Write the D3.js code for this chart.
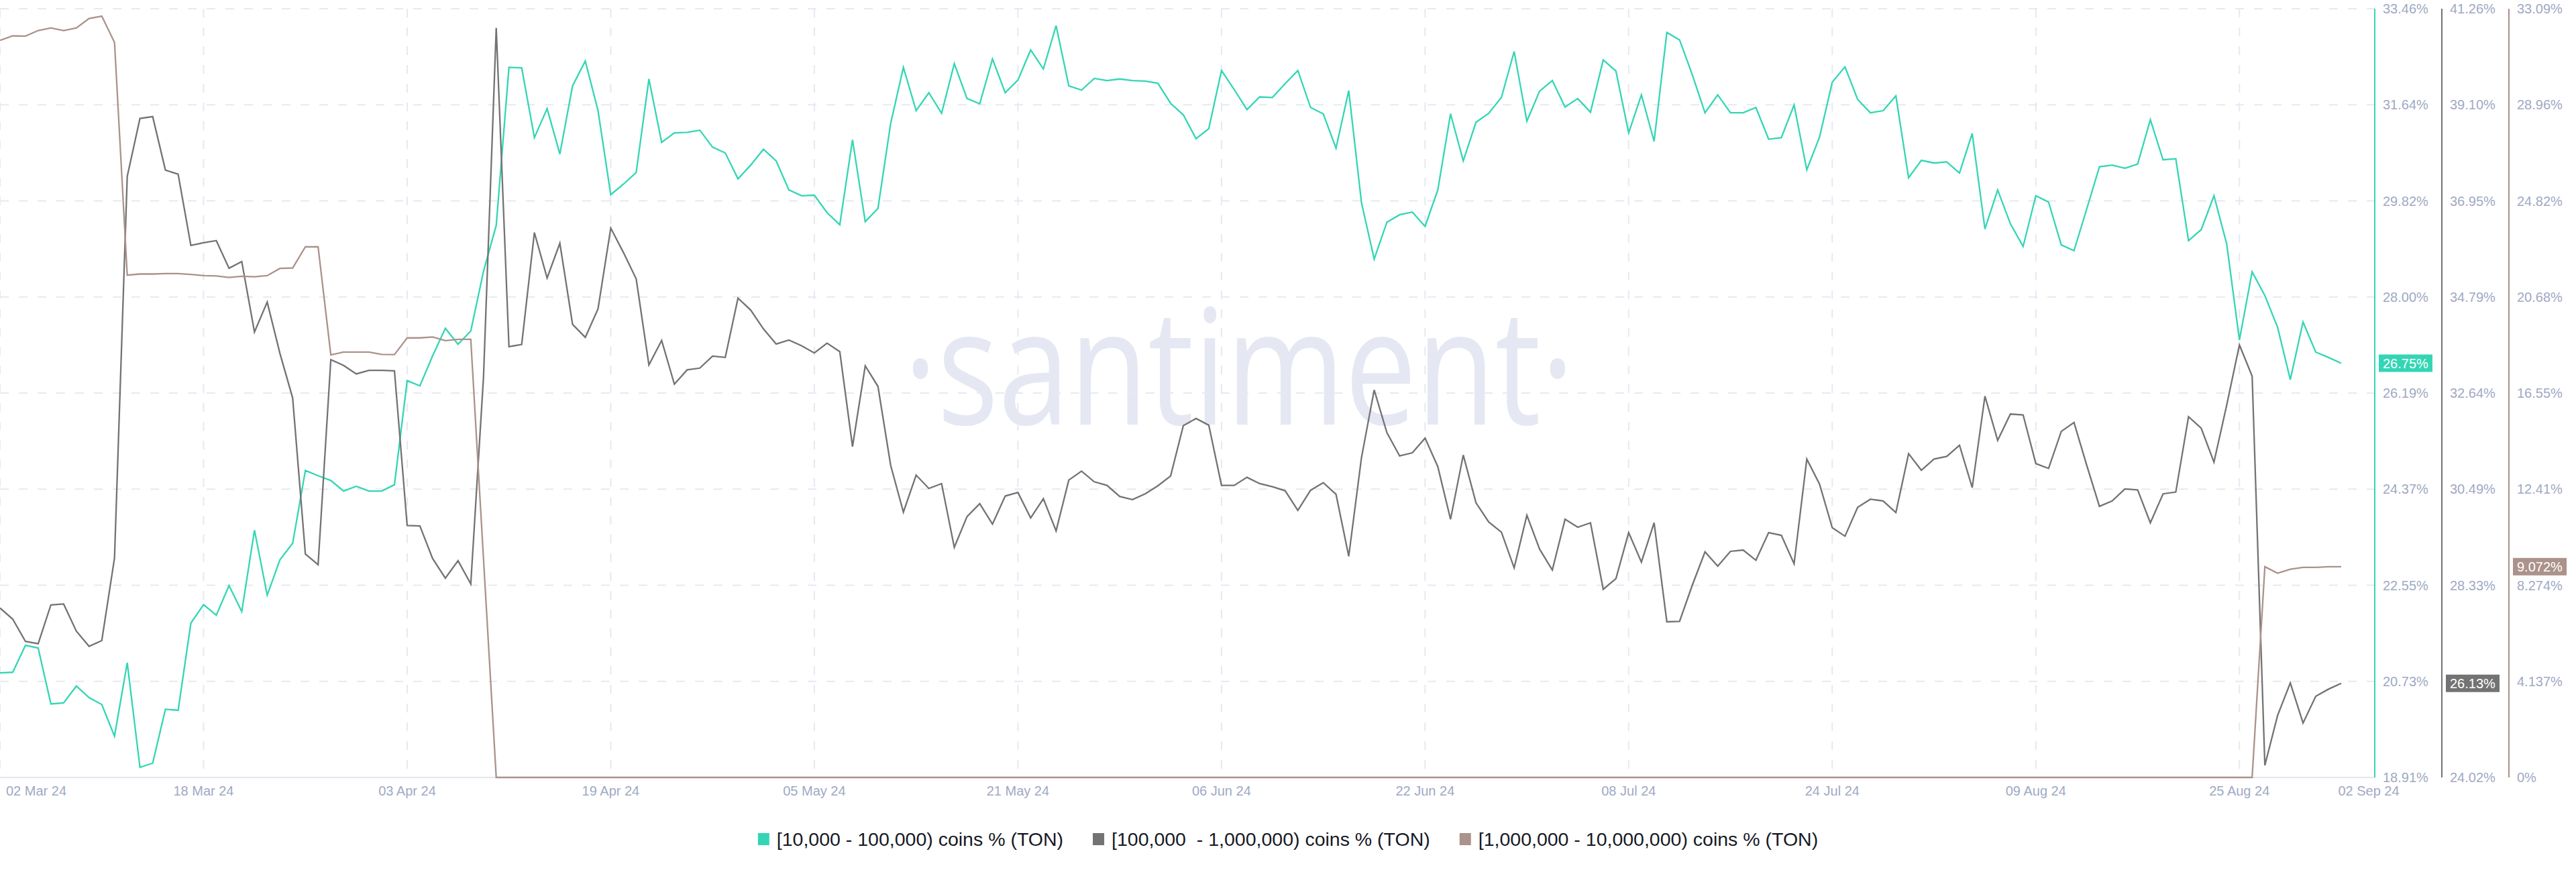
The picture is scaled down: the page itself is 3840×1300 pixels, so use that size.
<!DOCTYPE html>
<html><head><meta charset="utf-8">
<script src="https://cdn.jsdelivr.net/npm/d3@7"></script>
<style>
html,body{margin:0;padding:0;background:#fff;}
svg{display:block;font-family:"Liberation Sans",Arial,Helvetica,sans-serif;}
</style></head><body>
<svg id="chart" width="3840" height="1300"></svg>
<script>
// ---------------- DATA ----------------
const firstDay = "2024-03-02";
const lastDay = "2024-09-02";
const seriesNames = ["[10,000 - 100,000) coins % (TON)", "[100,000  - 1,000,000) coins % (TON)", "[1,000,000 - 10,000,000) coins % (TON)"];
const seriesColors = ["#33d6b4", "#737373", "#ab928a"];

// [10,000 - 100,000) coins %, daily from 02 Mar 24
const tealValues = [
 20.89,20.90,21.41,21.36,20.30,20.32,20.64,20.42,20.29,19.69,
 21.08,19.10,19.18,20.20,20.18,21.83,22.18,21.98,22.54,22.05,
 23.59,22.36,23.03,23.34,24.72,24.62,24.53,24.33,24.42,24.33,
 24.33,24.45,26.42,26.32,26.89,27.41,27.11,27.36,28.49,29.36,
 32.35,32.34,31.02,31.57,30.71,32.00,32.47,31.53,29.94,30.14,
 30.36,32.13,30.93,31.11,31.12,31.16,30.84,30.73,30.24,30.50,
 30.80,30.58,30.03,29.92,29.93,29.60,29.37,30.98,29.43,29.68,
 31.29,32.35,31.53,31.87,31.48,32.42,31.76,31.66,32.51,31.87,
 32.11,32.68,32.32,33.14,32.00,31.92,32.14,32.10,32.13,32.10,
 32.09,32.05,31.67,31.45,31.00,31.19,32.29,31.93,31.55,31.79,
 31.78,32.04,32.29,31.59,31.47,30.82,31.91,29.79,28.72,29.42,
 29.56,29.61,29.34,30.03,31.47,30.58,31.31,31.48,31.78,32.65,
 31.33,31.90,32.10,31.60,31.76,31.50,32.49,32.28,31.11,31.83,
 30.95,33.01,32.87,32.21,31.49,31.83,31.49,31.49,31.59,30.99,
 31.02,31.64,30.41,31.03,32.07,32.36,31.74,31.49,31.53,31.81,
 30.26,30.59,30.54,30.56,30.35,31.10,29.29,30.03,29.39,28.96,
 29.92,29.80,28.99,28.88,29.67,30.47,30.50,30.44,30.52,31.36,
 30.60,30.62,29.07,29.28,29.92,29.01,27.19,28.48,28.03,27.43,
 26.44,27.53,26.96,26.86,26.75
];
// [100,000 - 1,000,000) coins %
const grayValues = [
 27.82,27.57,27.07,27.02,27.89,27.91,27.30,26.96,27.09,28.94,
 37.50,38.80,38.84,37.64,37.55,35.95,36.01,36.06,35.44,35.59,
 34.01,34.68,33.53,32.53,29.03,28.79,33.39,33.26,33.07,33.15,
 33.15,33.14,29.67,29.66,28.93,28.49,28.88,28.36,33.00,40.83,
 33.68,33.73,36.24,35.22,36.00,34.18,33.89,34.53,36.34,35.79,
 35.20,33.27,33.82,32.84,33.16,33.20,33.47,33.44,34.77,34.50,
 34.08,33.74,33.83,33.70,33.54,33.76,33.57,31.44,33.25,32.79,
 31.02,29.97,30.80,30.50,30.61,29.18,29.87,30.16,29.70,30.33,
 30.41,29.84,30.27,29.55,30.69,30.89,30.65,30.57,30.32,30.25,
 30.38,30.56,30.78,31.91,32.07,31.92,30.57,30.57,30.75,30.61,
 30.54,30.45,30.01,30.46,30.63,30.37,28.98,31.19,32.71,31.75,
 31.23,31.30,31.63,30.99,29.81,31.25,30.18,29.75,29.52,28.72,
 29.90,29.14,28.67,29.81,29.63,29.73,28.24,28.48,29.51,28.85,
 29.73,27.51,27.52,28.33,29.08,28.76,29.09,29.12,28.89,29.51,
 29.45,28.81,31.16,30.60,29.62,29.43,30.08,30.26,30.22,29.96,
 31.28,30.91,31.16,31.22,31.47,30.52,32.57,31.58,32.17,32.15,
 31.06,30.95,31.78,31.98,31.02,30.10,30.22,30.49,30.47,29.73,
 30.38,30.42,32.11,31.85,31.09,32.37,33.72,33.02,24.29,25.41,
 26.14,25.24,25.84,26.00,26.13
];
// [1,000,000 - 10,000,000) coins %
const brownValues = [
 31.73,31.92,31.91,32.15,32.26,32.15,32.26,32.67,32.77,31.64,
 21.62,21.67,21.67,21.69,21.69,21.65,21.60,21.59,21.52,21.57,
 21.55,21.60,21.91,21.93,22.84,22.84,18.19,18.31,18.31,18.31,
 18.21,18.20,18.92,18.92,18.96,18.80,18.86,18.86,9.40,0,
 0,0,0,0,0,0,0,0,0,0,
 0,0,0,0,0,0,0,0,0,0,
 0,0,0,0,0,0,0,0,0,0,
 0,0,0,0,0,0,0,0,0,0,
 0,0,0,0,0,0,0,0,0,0,
 0,0,0,0,0,0,0,0,0,0,
 0,0,0,0,0,0,0,0,0,0,
 0,0,0,0,0,0,0,0,0,0,
 0,0,0,0,0,0,0,0,0,0,
 0,0,0,0,0,0,0,0,0,0,
 0,0,0,0,0,0,0,0,0,0,
 0,0,0,0,0,0,0,0,0,0,
 0,0,0,0,0,0,0,0,0,0,
 0,0,0,0,0,0,0,0,9.07,8.79,
 8.96,9.04,9.04,9.07,9.072
];

const xTickLabels = ["02 Mar 24","18 Mar 24","03 Apr 24","19 Apr 24","05 May 24","21 May 24","06 Jun 24","22 Jun 24","08 Jul 24","24 Jul 24","09 Aug 24","25 Aug 24","02 Sep 24"];
const tealDomain = [18.91, 33.46];
const grayDomain = [24.02, 41.26];
const brownDomain = [0, 33.09];
const tealTickLabels = ["18.91%","20.73%","22.55%","24.37%","26.19%","28.00%","29.82%","31.64%","33.46%"];
const grayTickLabels = ["24.02%","26.18%","28.33%","30.49%","32.64%","34.79%","36.95%","39.10%","41.26%"];
const brownTickLabels = ["0%","4.137%","8.274%","12.41%","16.55%","20.68%","24.82%","28.96%","33.09%"];
const lastValueLabels = ["26.75%","26.13%","9.072%"];
const watermark = "\u00B7santiment\u00B7";

// ---------------- LAYOUT ----------------
const W = 3840, H = 1300;
const plot = {left: 0, top: 13, right: 3540, bottom: 1159, dataRight: 3490};
const axisX = [3540, 3640, 3740];
const tickColor = "#a0a9c4";
const gridColor = "#e6e9f3";

const svg = d3.select("#chart");
const parseDay = d3.utcParse("%Y-%m-%d");
const dates = d3.utcDay.range(parseDay(firstDay), d3.utcDay.offset(parseDay(lastDay), 1));

const x = d3.scaleUtc().domain([dates[0], dates[dates.length - 1]]).range([plot.left, plot.dataRight]);
const yScales = [
  d3.scaleLinear().domain(tealDomain).range([plot.bottom, plot.top]),
  d3.scaleLinear().domain(grayDomain).range([plot.bottom, plot.top]),
  d3.scaleLinear().domain(brownDomain).range([plot.bottom, plot.top])
];
const tickLabelSets = [tealTickLabels, grayTickLabels, brownTickLabels];
const seriesData = [tealValues, grayValues, brownValues];

// watermark
svg.append("text")
  .attr("x", 1347).attr("y", 633)
  .attr("font-family", "'Open Sans', sans-serif")
  .attr("font-size", 240)
  .attr("fill", "#e5e8f2")
  .attr("textLength", 1000)
  .attr("lengthAdjust", "spacingAndGlyphs")
  .text(watermark);

// grid: horizontal (dashed) at tick levels
const tickFrac = d3.range(9).map(k => k / 8);
const gridG = svg.append("g");
tickFrac.forEach((f, k) => {
  const v = tealDomain[0] + f * (tealDomain[1] - tealDomain[0]);
  const yy = yScales[0](v);
  if (k === 0) return;
  gridG.append("line")
    .attr("x1", plot.left).attr("x2", plot.right)
    .attr("y1", yy).attr("y2", yy)
    .attr("stroke", gridColor).attr("stroke-width", 2)
    .attr("stroke-dasharray", "13,15");
});
// vertical grid at date ticks
const parseTick = d3.utcParse("%d %b %y");
const tickDates = xTickLabels.map(parseTick);
tickDates.slice(0, -1).forEach(d => {
  gridG.append("line")
    .attr("x1", x(d)).attr("x2", x(d))
    .attr("y1", plot.top).attr("y2", plot.bottom)
    .attr("stroke", gridColor).attr("stroke-width", 2)
    .attr("stroke-dasharray", "13,15");
});
// baseline
gridG.append("line")
  .attr("x1", plot.left).attr("x2", plot.right)
  .attr("y1", plot.bottom).attr("y2", plot.bottom)
  .attr("stroke", "#e2e5ef").attr("stroke-width", 2);

// x tick labels
const xLab = svg.append("g").attr("font-size", 20).attr("fill", tickColor);
tickDates.forEach((d, k) => {
  let xx = x(d), anchor = "middle";
  if (k === 0) { xx = 9; anchor = "start"; }
  if (k === tickDates.length - 1) { xx = x(d) + 41; }
  xLab.append("text")
    .attr("x", xx).attr("y", 1186)
    .attr("text-anchor", anchor)
    .text(xTickLabels[k]);
});

// lines
const lineG = svg.append("g");
seriesData.forEach((vals, s) => {
  const line = d3.line()
    .x((v, i) => x(dates[i]))
    .y(v => yScales[s](v));
  lineG.append("path")
    .datum(vals)
    .attr("d", line)
    .attr("fill", "none")
    .attr("stroke", seriesColors[s])
    .attr("stroke-width", 2.3)
    .attr("stroke-linejoin", "miter");
});

// right axes
seriesData.forEach((vals, s) => {
  const ax = axisX[s];
  const g = svg.append("g");
  g.append("line")
    .attr("x1", ax).attr("x2", ax)
    .attr("y1", plot.top).attr("y2", plot.bottom)
    .attr("stroke", seriesColors[s]).attr("stroke-width", 2);
  const dom = yScales[s].domain();
  tickFrac.forEach((f, k) => {
    const v = dom[0] + f * (dom[1] - dom[0]);
    g.append("text")
      .attr("x", ax + 12).attr("y", yScales[s](v))
      .attr("dy", "0.36em")
      .attr("font-size", 20).attr("fill", tickColor)
      .text(tickLabelSets[s][k]);
  });
  const last = vals[vals.length - 1];
  const ly = yScales[s](last);
  g.append("rect")
    .attr("x", ax + 6).attr("y", ly - 13)
    .attr("width", 80).attr("height", 26)
    .attr("fill", seriesColors[s]);
  g.append("text")
    .attr("x", ax + 12).attr("y", ly)
    .attr("dy", "0.36em")
    .attr("font-size", 20).attr("fill", "#ffffff")
    .text(lastValueLabels[s]);
});

// legend
const legend = svg.append("g").attr("font-size", 28.5).attr("fill", "#161925");
const items = [];
seriesNames.forEach((name, s) => {
  const it = legend.append("g");
  it.append("rect").attr("x", 0).attr("y", -9).attr("width", 17).attr("height", 18).attr("fill", seriesColors[s]);
  const t = it.append("text").attr("x", 28).attr("y", 0).attr("dy", "0.35em")
    .style("white-space", "pre").text(name);
  const w = 28 + t.node().getComputedTextLength();
  items.push({it, w});
});
const gap = 44;
const total = d3.sum(items, d => d.w) + gap * (items.length - 1);
let lx = W / 2 - total / 2;
items.forEach(d => {
  d.it.attr("transform", `translate(${lx},1251)`);
  lx += d.w + gap;
});
</script>
</body></html>
